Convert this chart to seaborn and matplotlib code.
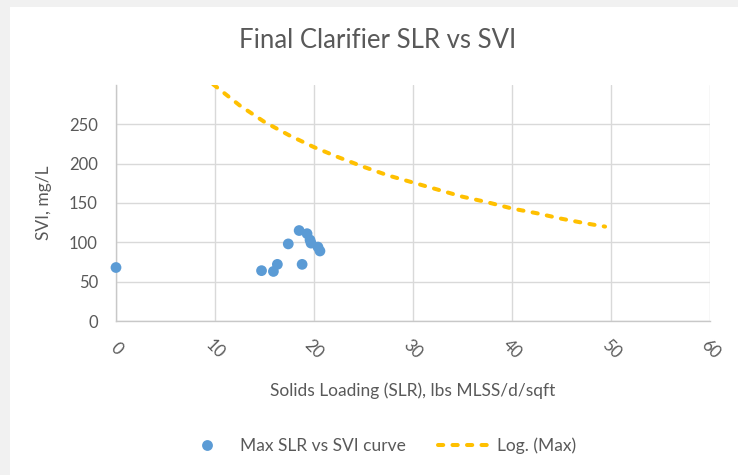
import numpy as np
import pandas as pd
import seaborn as sns
import matplotlib.pyplot as plt
from matplotlib.lines import Line2D
from matplotlib.patches import Rectangle

# data
slr = [0.0, 14.7, 15.9, 16.3, 17.4, 18.5, 19.3, 19.6, 19.7, 18.8, 20.4, 20.6]
svi = [68, 64, 63, 72, 98, 115, 111, 103, 99, 72, 94, 89]

# log trendline, read at intervals along the dashed curve
trend_x = [9.8, 12.5, 15, 17.5, 20, 22.5, 25, 27.5, 30, 32.5, 35, 37.5, 40, 42.5, 45, 47.5, 49.4]
trend_y = [301, 274, 253, 236, 221, 208, 196, 185, 176, 167, 158, 151, 143, 137, 130, 124, 120]

x_ticks = [0, 10, 20, 30, 40, 50, 60]
y_ticks = [0, 50, 100, 150, 200, 250]

pts = pd.DataFrame({"slr": slr, "svi": svi})
trend = pd.DataFrame({"x": trend_x, "y": trend_y})

sns.set_theme(style="white")
plt.rcParams['font.family'] = ['Lato', 'DejaVu Sans']
txt = "#595959"
grid = "#d9d9d9"
dash = (0, (1.3, 2.3))

fig = plt.figure(figsize=(7.38, 4.75), dpi=100, facecolor="#f1f1f1")
# white chart area with a grey margin on the left and top
fig.patches.append(Rectangle((10 / 738, 0), 1, 1 - 7 / 475, transform=fig.transFigure,
                             facecolor="white", edgecolor="none", zorder=-5))
ax = fig.add_axes([116 / 738, 1 - 321 / 475, (710 - 116) / 738, (321 - 85) / 475])
ax.set_zorder(2)
ax.set_facecolor("white")

sns.lineplot(data=trend, x="x", y="y", ax=ax, color="#FFC000", linewidth=2.9,
             linestyle=dash, dash_capstyle="round", zorder=3)
sns.scatterplot(data=pts, x="slr", y="svi", ax=ax, color="#5B9BD5", s=60,
                edgecolor="none", zorder=4, clip_on=False)

ax.set_xlim(0, 60)
ax.set_ylim(0, 300)
ax.set_xticks(x_ticks)
ax.set_yticks(y_ticks)
ax.grid(True, color=grid, linewidth=1)
ax.set_axisbelow(True)
for sp in ["top", "right"]:
    ax.spines[sp].set_visible(False)
for sp in ["left", "bottom"]:
    ax.spines[sp].set_color("#c8c8c8")
    ax.spines[sp].set_linewidth(1)

ax.tick_params(axis="both", length=0, colors=txt, labelsize=12)
ax.tick_params(axis="y", pad=13)
ax.tick_params(axis="x", pad=20)
for lab in ax.get_xticklabels():
    lab.set_rotation(-45)
    lab.set_ha("center")
    lab.set_va("center")

ax.set_xlabel("Solids Loading (SLR), lbs MLSS/d/sqft", color=txt, fontsize=12.5, labelpad=15)
ax.set_ylabel("SVI, mg/L", color=txt, fontsize=12.5, labelpad=12)
fig.text(378 / 738, 1 - 41 / 475, "Final Clarifier SLR vs SVI", color=txt,
         fontsize=18.5, ha="center", va="center")

handles = [
    Line2D([], [], marker="o", linestyle="none", color="#5B9BD5", markersize=7.8,
           markeredgewidth=0),
    Line2D([], [], color="#FFC000", linewidth=2.9, linestyle=dash, dash_capstyle="round"),
]
fig.legend(handles, ["Max SLR vs SVI curve", "Log. (Max)"], loc="center",
           bbox_to_anchor=(379 / 738, 1 - 446 / 475), ncol=2, frameon=False,
           fontsize=12.5, labelcolor=txt, handlelength=3.0, columnspacing=1.85,
           handletextpad=0.4)

fig.savefig("out.png", dpi=100, facecolor=fig.get_facecolor())
